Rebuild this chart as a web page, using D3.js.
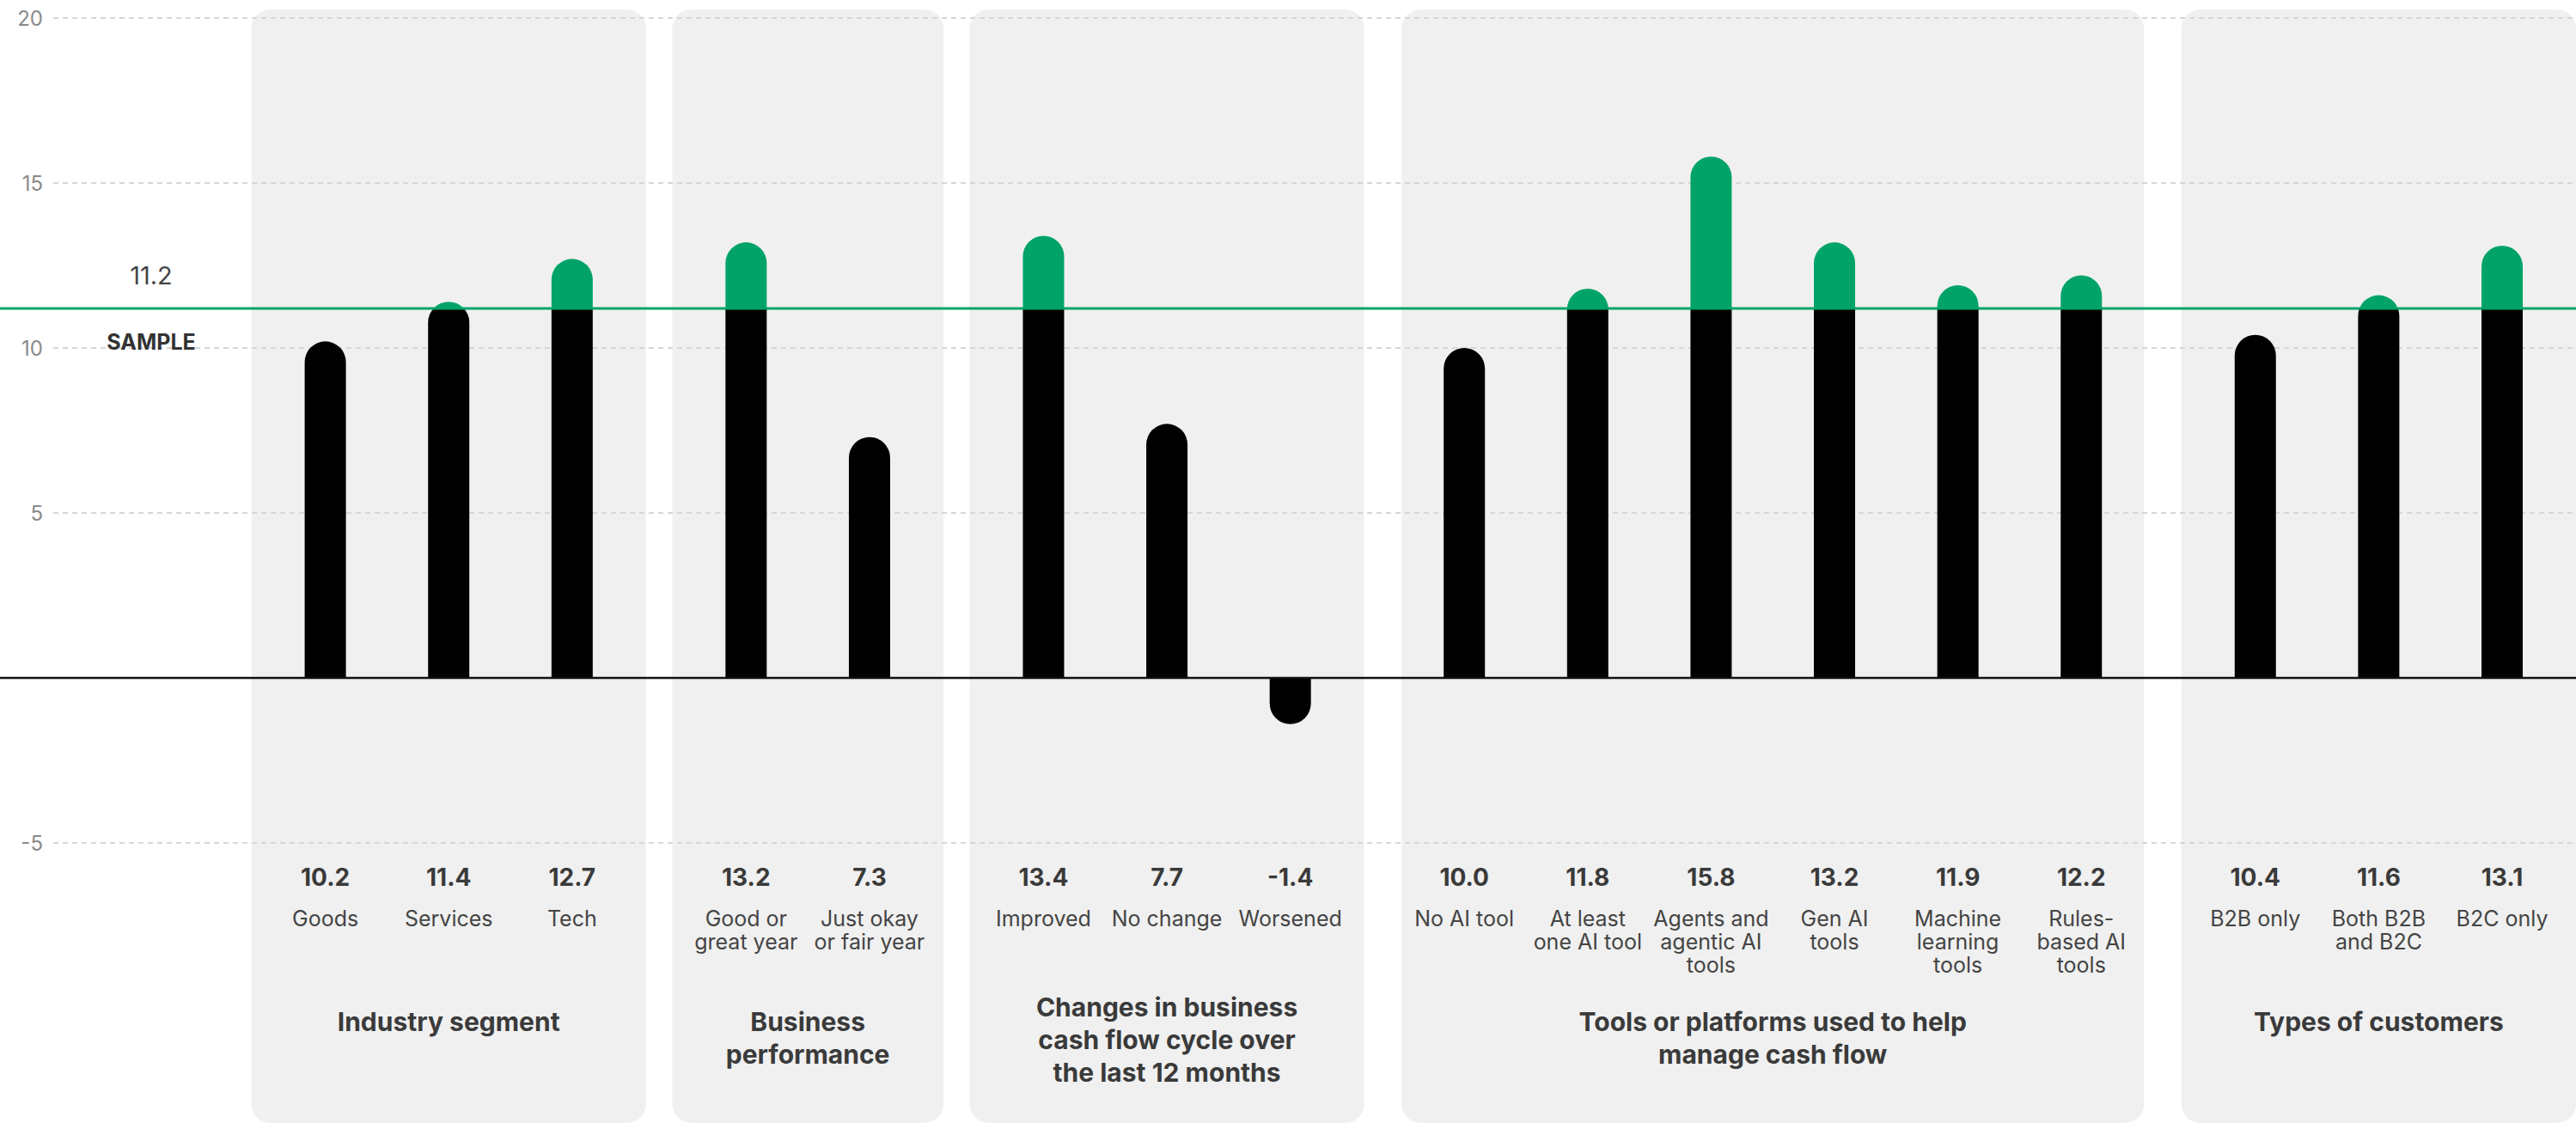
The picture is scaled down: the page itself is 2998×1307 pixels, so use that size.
<!DOCTYPE html>
<html>
<head>
<meta charset="utf-8">
<script src="https://cdn.jsdelivr.net/npm/d3@7"></script>
<style>
  html, body { margin: 0; padding: 0; background: #ffffff; }
  svg { display: block; }
  text { font-family: Inter, "Open Sans", sans-serif; }
</style>
</head>
<body>
<svg id="chart" width="2998" height="1307"></svg>
<script>
// ---- data ----
const groupTitles = [
  ["Industry segment"],
  ["Business", "performance"],
  ["Changes in business", "cash flow cycle over", "the last 12 months"],
  ["Tools or platforms used to help", "manage cash flow"],
  ["Types of customers"]
];
const categories = [
  ["Goods"], ["Services"], ["Tech"],
  ["Good or", "great year"], ["Just okay", "or fair year"],
  ["Improved"], ["No change"], ["Worsened"],
  ["No AI tool"], ["At least", "one AI tool"], ["Agents and", "agentic AI", "tools"],
  ["Gen AI", "tools"], ["Machine", "learning", "tools"], ["Rules-", "based AI", "tools"],
  ["B2B only"], ["Both B2B", "and B2C"], ["B2C only"]
];
const categoryGroup = [0,0,0, 1,1, 2,2,2, 3,3,3,3,3,3, 4,4,4];
const values = [10.2, 11.4, 12.7, 13.2, 7.3, 13.4, 7.7, -1.4, 10.0, 11.8, 15.8, 13.2, 11.9, 12.2, 10.4, 11.6, 13.1];
const sampleValue = 11.2;
const sampleLabel = "SAMPLE";
const yTicks = [20, 15, 10, 5, -5];

// ---- layout ----
const W = 2998, H = 1307;
const GREEN = "#02a368";
const svg = d3.select("#chart");

const groupGap = 0.41;
const slots = categories.map((c, i) => i + categoryGroup[i] * groupGap);
const x = d3.scaleLinear().domain([0, d3.max(slots)]).range([378.6, 2912]);
const y = d3.scaleLinear().domain([-5, 20]).range([981, 21]);

const barW = 48, r = barW / 2;
const boxPad = [86, 86, 86, 73, 86];

// group boxes
const groups = groupTitles.map((t, g) => {
  const xs = slots.filter((s, i) => categoryGroup[i] === g).map(x);
  return { g, title: t, x0: d3.min(xs) - boxPad[g], x1: d3.max(xs) + boxPad[g], cx: (d3.min(xs) + d3.max(xs)) / 2 };
});

svg.append("g").selectAll("path").data(groups).join("path")
  .attr("fill", "#f0f0f0")
  .attr("d", d => {
    const x0 = d.x0, x1 = Math.min(d.x1, W), y0 = 11, y1 = 1307, rr = 22;
    const p = d3.path();
    p.moveTo(x0 + rr, y0);
    p.lineTo(x1 - rr, y0);
    p.arcTo(x1, y0, x1, y0 + rr, rr);
    p.lineTo(x1, y1 - rr);
    p.arcTo(x1, y1, x1 - rr, y1, rr);
    p.lineTo(x0 + rr, y1);
    p.arcTo(x0, y1, x0, y1 - rr, rr);
    p.lineTo(x0, y0 + rr);
    p.arcTo(x0, y0, x0 + rr, y0, rr);
    p.closePath();
    return p.toString();
  });

// gridlines
const grid = svg.append("g");
grid.selectAll("line").data(yTicks).join("line")
  .attr("x1", 62).attr("x2", W)
  .attr("y1", d => y(d)).attr("y2", d => y(d))
  .attr("stroke", "#d6d6d6").attr("stroke-width", 2)
  .attr("stroke-dasharray", "6,5");
grid.selectAll("text").data(yTicks).join("text")
  .attr("x", 50).attr("y", d => y(d))
  .attr("text-anchor", "end").attr("dominant-baseline", "central")
  .attr("font-size", 24).attr("fill", "#8a8a8a")
  .text(d => String(d));

// clip paths for bar colouring
const defs = svg.append("defs");
defs.append("clipPath").attr("id", "above").append("rect")
  .attr("x", 0).attr("y", 0).attr("width", W).attr("height", y(sampleValue));
defs.append("clipPath").attr("id", "below").append("rect")
  .attr("x", 0).attr("y", y(sampleValue)).attr("width", W).attr("height", H - y(sampleValue));

function barPath(v, i) {
  const cx = x(slots[i]);
  const y0 = y(0), yv = y(v);
  if (v >= 0) {
    return `M${cx - r},${y0}L${cx - r},${yv + r}A${r},${r} 0 0 1 ${cx + r},${yv + r}L${cx + r},${y0}Z`;
  }
  return `M${cx - r},${y0}L${cx - r},${yv - r}A${r},${r} 0 0 0 ${cx + r},${yv - r}L${cx + r},${y0}Z`;
}

svg.append("g").attr("clip-path", "url(#below)")
  .selectAll("path").data(values).join("path")
  .attr("d", (v, i) => barPath(v, i)).attr("fill", "#000");
svg.append("g").attr("clip-path", "url(#above)")
  .selectAll("path").data(values).join("path")
  .attr("d", (v, i) => barPath(v, i)).attr("fill", GREEN);

// zero line
svg.append("line").attr("x1", 0).attr("x2", W)
  .attr("y1", y(0)).attr("y2", y(0))
  .attr("stroke", "#111").attr("stroke-width", 2.5);

// sample line
svg.append("line").attr("x1", 0).attr("x2", W)
  .attr("y1", y(sampleValue)).attr("y2", y(sampleValue))
  .attr("stroke", GREEN).attr("stroke-width", 3);

svg.append("text").attr("x", 176).attr("y", y(sampleValue) - 38)
  .attr("text-anchor", "middle").attr("dominant-baseline", "central")
  .attr("font-size", 29).attr("fill", "#444")
  .text(sampleValue.toFixed(1));
svg.append("text").attr("x", 176).attr("y", y(sampleValue) + 39)
  .attr("text-anchor", "middle").attr("dominant-baseline", "central")
  .attr("font-size", 25).attr("font-weight", 700).attr("fill", "#333")
  .text(sampleLabel);

// value labels
svg.append("g").selectAll("text").data(values).join("text")
  .attr("x", (v, i) => x(slots[i])).attr("y", 1021)
  .attr("text-anchor", "middle").attr("dominant-baseline", "central")
  .attr("font-size", 28).attr("font-weight", 700).attr("fill", "#3a3a3a")
  .text(v => v.toFixed(1));

// category labels
const catG = svg.append("g").selectAll("text").data(categories).join("text")
  .attr("x", (c, i) => x(slots[i]))
  .attr("text-anchor", "middle")
  .attr("font-size", 25).attr("fill", "#444");
catG.selectAll("tspan").data((c, i) => c.map(line => ({ line, i }))).join("tspan")
  .attr("x", d => x(slots[d.i]))
  .attr("y", (d, j) => 1069 + j * 27)
  .attr("dominant-baseline", "central")
  .text(d => d.line);

// group titles
const titleG = svg.append("g").selectAll("text").data(groups).join("text")
  .attr("text-anchor", "middle")
  .attr("font-size", 30).attr("font-weight", 700).attr("fill", "#3a3a3a");
titleG.selectAll("tspan").data(d => d.title.map(line => ({ line, d }))).join("tspan")
  .attr("x", t => t.d.cx)
  .attr("y", (t, j) => 1189 - Math.max(0, t.d.title.length - 2) * 17 + j * 38)
  .attr("dominant-baseline", "central")
  .text(t => t.line);
</script>
</body>
</html>
